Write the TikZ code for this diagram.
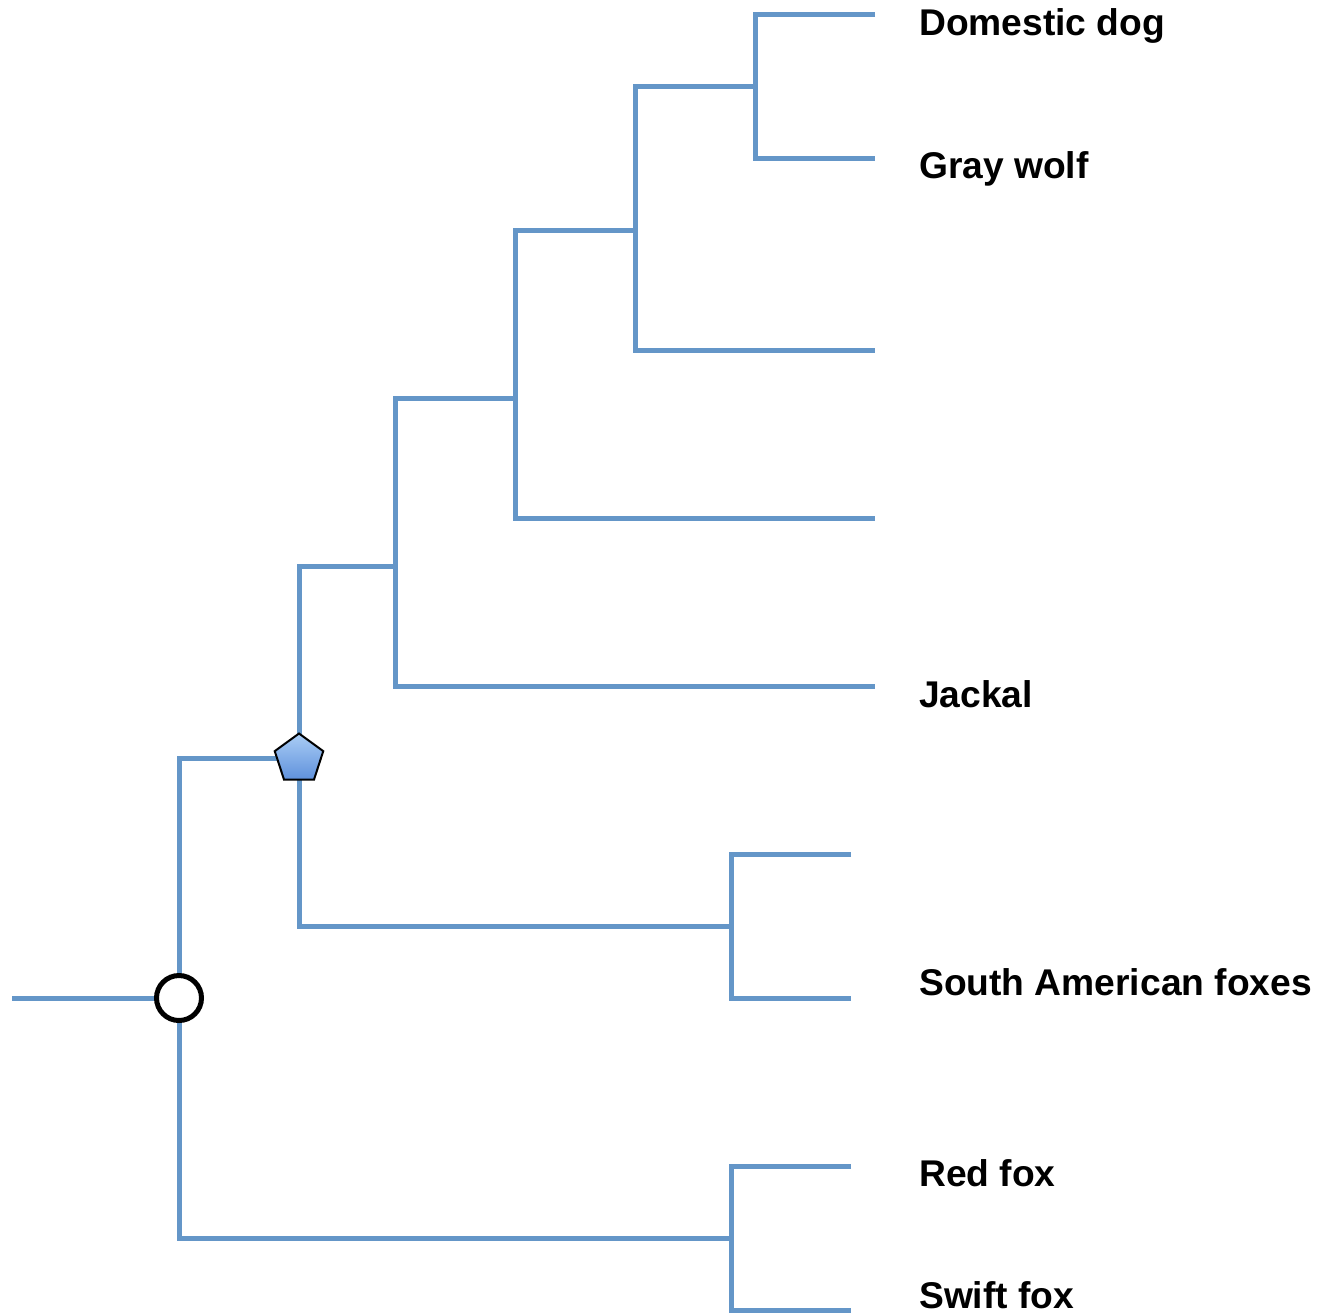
\documentclass[tikz,border=0pt]{standalone}
\usepackage{fontspec}
\setmainfont{Liberation Sans}
\usetikzlibrary{shapes.geometric}
\definecolor{branch}{RGB}{100,150,200}
\definecolor{pentop}{RGB}{170,205,245}
\definecolor{penbot}{RGB}{95,145,220}
\begin{document}
\begin{tikzpicture}[x=1pt,y=-1pt,
  br/.style={draw=branch,line width=5pt},
  lbl/.style={anchor=base west,font=\fontsize{37.2}{40}\selectfont\bfseries,inner sep=0pt}]
\useasboundingbox (0,0) rectangle (1327,1312);
% coordinates
\coordinate (r0) at (12,998);
\coordinate (root) at (179,998);
\coordinate (rt) at (179,758);
\coordinate (rb) at (179,1238);
\coordinate (p) at (299,758);
\coordinate (pt) at (299,566);
\coordinate (pb) at (299,926);
\coordinate (fb) at (731,1238);
\coordinate (fbt) at (731,1166);
\coordinate (fbb) at (731,1310);
\coordinate (redfox) at (851,1166);
\coordinate (swift) at (851,1310);
\coordinate (sa) at (731,926);
\coordinate (sat) at (731,854);
\coordinate (sab) at (731,998);
\coordinate (sa1) at (851,854);
\coordinate (sa2) at (851,998);
\coordinate (a) at (395,566);
\coordinate (at) at (395,398);
\coordinate (ab) at (395,686);
\coordinate (jackal) at (875,686);
\coordinate (b) at (515,398);
\coordinate (bt) at (515,230);
\coordinate (bb) at (515,518);
\coordinate (t4) at (875,518);
\coordinate (c) at (635,230);
\coordinate (ct) at (635,86);
\coordinate (cb) at (635,350);
\coordinate (t3) at (875,350);
\coordinate (d) at (755,86);
\coordinate (dt) at (755,14);
\coordinate (db) at (755,158);
\coordinate (dog) at (875,14);
\coordinate (wolf) at (875,158);
% branches
\draw[br] (r0) -- (root);
\draw[br] (p) -- (rt) -- (rb) -- (fb);
\draw[br] (redfox) -- (fbt) -- (fbb) -- (swift);
\draw[br] (a) -- (pt) -- (pb) -- (sa);
\draw[br] (sa1) -- (sat) -- (sab) -- (sa2);
\draw[br] (b) -- (at) -- (ab) -- (jackal);
\draw[br] (c) -- (bt) -- (bb) -- (t4);
\draw[br] (d) -- (ct) -- (cb) -- (t3);
\draw[br] (dog) -- (dt) -- (db) -- (wolf);
% markers
\node[circle,draw=black,line width=5pt,fill=white,minimum size=45pt,inner sep=0pt] (rootmark) at (root) {};
\node[regular polygon,regular polygon sides=5,draw=black,line width=2pt,top color=pentop,bottom color=penbot,minimum size=51pt,inner sep=0pt] (penta) at (299,759) {};
% labels
\node[lbl] (Ldog) at (919,35) {Domestic dog};
\node[lbl] (Lwolf) at (919,178) {Gray wolf};
\node[lbl] (Ljackal) at (919,707) {Jackal};
\node[lbl] (Lsa) at (919,995) {South American foxes};
\node[lbl] (Lred) at (919,1186) {Red fox};
\node[lbl] (Lswift) at (919,1308) {Swift fox};
\end{tikzpicture}
\end{document}
